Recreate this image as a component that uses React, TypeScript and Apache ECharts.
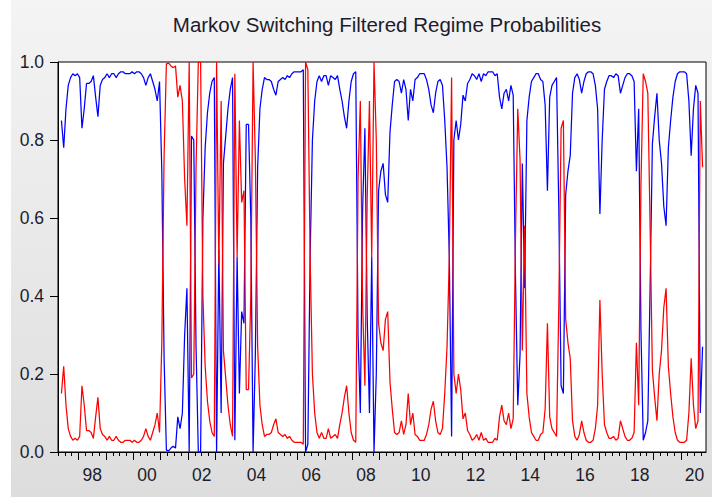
import React, { useEffect, useRef } from "react";
import * as echarts from "echarts";

// Monthly filtered probabilities, first observation 1997M05, last 2020M10
const START_YEAR = 1997;
const START_MONTH = 5;

const REGIME1_BLUE = [
  0.85, 0.78, 0.88, 0.94, 0.96, 0.97, 0.965, 0.97, 0.96, 0.83,
  0.88, 0.945, 0.945, 0.95, 0.965, 0.91, 0.86, 0.94, 0.955, 0.96,
  0.97, 0.96, 0.97, 0.97, 0.96, 0.97, 0.975, 0.975, 0.97, 0.97,
  0.97, 0.975, 0.97, 0.975, 0.975, 0.97, 0.96, 0.94, 0.96, 0.97,
  0.95, 0.93, 0.9, 0.95, 0.72, 0.24, 0.005, 0.003, 0.01, 0.015,
  0.01, 0.09, 0.06, 0.1, 0.3, 0.42, 0.0, 0.81, 0.8, 0.27,
  0.0, 0.0, 0.6, 0.78, 0.87, 0.92, 0.95, 0.96, 0.0, 0.52,
  0.1, 0.74, 0.81, 0.88, 0.93, 0.96, 0.03, 0.5, 0.15, 0.36,
  0.33, 0.84, 0.84, 0.6, 0.0, 0.25, 0.73, 0.88, 0.93, 0.96,
  0.955, 0.955, 0.95, 0.93, 0.915, 0.95, 0.955, 0.96, 0.955, 0.965,
  0.96, 0.97, 0.975, 0.975, 0.975, 0.975, 0.98, 0.0, 0.02, 0.5,
  0.8, 0.9, 0.95, 0.965, 0.95, 0.965, 0.965, 0.94, 0.965, 0.96,
  0.955, 0.965, 0.93, 0.9, 0.86, 0.83, 0.9, 0.95, 0.97, 0.975,
  0.3, 0.1, 0.62, 0.83, 0.35, 0.1, 0.5, 0.0, 0.2, 0.67,
  0.72, 0.74, 0.66, 0.64, 0.82, 0.89, 0.95, 0.955, 0.95, 0.92,
  0.955, 0.93, 0.85, 0.93, 0.9, 0.955, 0.96, 0.97, 0.97, 0.97,
  0.955, 0.93, 0.89, 0.87, 0.92, 0.95, 0.955, 0.94, 0.85, 0.73,
  0.5, 0.04, 0.8, 0.85, 0.8, 0.84, 0.915, 0.9, 0.945, 0.955,
  0.97, 0.965, 0.955, 0.97, 0.95, 0.97, 0.965, 0.975, 0.975, 0.975,
  0.965, 0.97, 0.91, 0.88, 0.92, 0.93, 0.9, 0.94, 0.915, 0.45,
  0.12, 0.25, 0.74, 0.42, 0.85, 0.91, 0.95, 0.96, 0.97, 0.97,
  0.955, 0.95, 0.89, 0.67, 0.91, 0.94, 0.95, 0.96, 0.62, 0.17,
  0.15, 0.66, 0.72, 0.76, 0.92, 0.96, 0.97, 0.955, 0.92, 0.95,
  0.97, 0.975, 0.975, 0.97, 0.94, 0.88, 0.61, 0.8, 0.93, 0.95,
  0.965, 0.965, 0.96, 0.97, 0.965, 0.92, 0.94, 0.96, 0.97, 0.97,
  0.965, 0.95, 0.72, 0.88, 0.31, 0.03, 0.05, 0.08, 0.42, 0.79,
  0.86, 0.92, 0.8, 0.74, 0.63, 0.58, 0.78, 0.85, 0.91, 0.95,
  0.97, 0.975, 0.975, 0.975, 0.97, 0.9, 0.76, 0.88, 0.94, 0.92,
  0.1, 0.27,
];

const REGIME2_RED = [
  0.15, 0.22, 0.12, 0.06, 0.04, 0.03, 0.035, 0.03, 0.04, 0.17,
  0.12, 0.055, 0.055, 0.05, 0.035, 0.09, 0.14, 0.06, 0.045, 0.04,
  0.03, 0.04, 0.03, 0.03, 0.04, 0.03, 0.025, 0.025, 0.03, 0.03,
  0.03, 0.025, 0.03, 0.025, 0.025, 0.03, 0.04, 0.06, 0.04, 0.03,
  0.05, 0.07, 0.1, 0.05, 0.28, 0.76, 0.995, 0.997, 0.99, 0.985,
  0.99, 0.91, 0.94, 0.9, 0.7, 0.58, 1.0, 0.19, 0.2, 0.73,
  1.0, 1.0, 0.4, 0.22, 0.13, 0.08, 0.05, 0.04, 1.0, 0.48,
  0.9, 0.26, 0.19, 0.12, 0.07, 0.04, 0.97, 0.5, 0.85, 0.64,
  0.67, 0.16, 0.16, 0.4, 1.0, 0.75, 0.27, 0.12, 0.07, 0.04,
  0.045, 0.045, 0.05, 0.07, 0.085, 0.05, 0.045, 0.04, 0.045, 0.035,
  0.04, 0.03, 0.025, 0.025, 0.025, 0.025, 0.02, 1.0, 0.98, 0.5,
  0.2, 0.1, 0.05, 0.035, 0.05, 0.035, 0.035, 0.06, 0.035, 0.04,
  0.045, 0.035, 0.07, 0.1, 0.14, 0.17, 0.1, 0.05, 0.03, 0.025,
  0.7, 0.9, 0.38, 0.17, 0.65, 0.9, 0.5, 1.0, 0.8, 0.33,
  0.28, 0.26, 0.34, 0.36, 0.18, 0.11, 0.05, 0.045, 0.05, 0.08,
  0.045, 0.07, 0.15, 0.07, 0.1, 0.045, 0.04, 0.03, 0.03, 0.03,
  0.045, 0.07, 0.11, 0.13, 0.08, 0.05, 0.045, 0.06, 0.15, 0.27,
  0.5, 0.96, 0.2, 0.15, 0.2, 0.16, 0.085, 0.1, 0.055, 0.045,
  0.03, 0.035, 0.045, 0.03, 0.05, 0.03, 0.035, 0.025, 0.025, 0.025,
  0.035, 0.03, 0.09, 0.12, 0.08, 0.07, 0.1, 0.06, 0.085, 0.55,
  0.88, 0.75, 0.26, 0.58, 0.15, 0.09, 0.05, 0.04, 0.03, 0.03,
  0.045, 0.05, 0.11, 0.33, 0.09, 0.06, 0.05, 0.04, 0.38, 0.83,
  0.85, 0.34, 0.28, 0.24, 0.08, 0.04, 0.03, 0.045, 0.08, 0.05,
  0.03, 0.025, 0.025, 0.03, 0.06, 0.12, 0.39, 0.2, 0.07, 0.05,
  0.035, 0.035, 0.04, 0.03, 0.035, 0.08, 0.06, 0.04, 0.03, 0.03,
  0.035, 0.05, 0.28, 0.12, 0.69, 0.97, 0.95, 0.92, 0.58, 0.21,
  0.14, 0.08, 0.2, 0.26, 0.37, 0.42, 0.22, 0.15, 0.09, 0.05,
  0.03, 0.025, 0.025, 0.025, 0.03, 0.1, 0.24, 0.12, 0.06, 0.08,
  0.9, 0.73,
];

const X_LABEL_YEARS = [1998, 2000, 2002, 2004, 2006, 2008, 2010, 2012, 2014, 2016, 2018, 2020];
const X_LABELS = ["98", "00", "02", "04", "06", "08", "10", "12", "14", "16", "18", "20"];

const X_MIN = 1997.25;
const X_MAX = 2020 + 11 / 12;
const FONT = "'Liberation Sans', Arial, Helvetica, sans-serif";
const TEXT_COLOR = "#1c1c2c";

function monthPos(i: number): number {
  return START_YEAR + (START_MONTH - 1 + i + 0.5) / 12;
}

export default function App() {
  const ref = useRef<HTMLDivElement>(null);

  useEffect(() => {
    if (!ref.current) return;
    const chart = echarts.init(ref.current, null, { renderer: "svg" });

    const blueData = REGIME1_BLUE.map((v, i) => [monthPos(i), v]);
    const redData = REGIME2_RED.map((v, i) => [monthPos(i), v]);

    const quarterTicks: number[] = [];
    for (let q = 0; X_MIN + q * 0.25 <= X_MAX + 1e-9; q++) quarterTicks.push(X_MIN + q * 0.25);
    const yearTicks: number[] = [];
    for (let y = 1998; y <= 2020; y++) yearTicks.push(y);
    const labelPos = X_LABEL_YEARS.map((y) => y + 0.5);

    chart.setOption({
      animation: false,
      backgroundColor: {
        type: "linear",
        x: 0,
        y: 0,
        x2: 0,
        y2: 1,
        colorStops: [
          { offset: 0, color: "#f4f4f4" },
          { offset: 1, color: "#dddddd" },
        ],
      },
      graphic: [
        {
          type: "rect",
          left: 0,
          top: 0,
          shape: { x: 0, y: 0, width: 11, height: 497 },
          style: { fill: "#ffffff" },
          silent: true,
          z: -10,
        },
      ],
      title: {
        text: "Markov Switching Filtered Regime Probabilities",
        left: 382,
        top: 9,
        textAlign: "center",
        textStyle: {
          fontFamily: FONT,
          fontSize: 20.5,
          fontWeight: "normal",
          color: TEXT_COLOR,
        },
      },
      grid: {
        left: 58,
        right: 6,
        top: 62,
        bottom: 45,
        show: true,
        backgroundColor: "#ffffff",
        borderColor: "#000000",
        borderWidth: 1,
      },
      xAxis: [
        {
          type: "value",
          min: X_MIN,
          max: X_MAX,
          position: "bottom",
          axisLine: { show: true, onZero: false, lineStyle: { color: "#000", width: 1 } },
          axisTick: {
            show: true,
            length: 4,
            customValues: quarterTicks,
            lineStyle: { color: "#000", width: 1 },
          },
          axisLabel: {
            show: true,
            customValues: labelPos,
            margin: 14,
            fontFamily: FONT,
            fontSize: 17.5,
            color: TEXT_COLOR,
            formatter: (v: number) => {
              const idx = X_LABEL_YEARS.indexOf(Math.round(v - 0.5));
              return idx >= 0 ? X_LABELS[idx] : "";
            },
          },
          splitLine: { show: false },
        },
        {
          type: "value",
          min: X_MIN,
          max: X_MAX,
          position: "bottom",
          axisLine: { show: false, onZero: false },
          axisTick: {
            show: true,
            length: 8,
            customValues: yearTicks,
            lineStyle: { color: "#000", width: 1 },
          },
          axisLabel: { show: false },
          splitLine: { show: false },
        },
      ],
      yAxis: {
        type: "value",
        min: 0,
        max: 1,
        interval: 0.2,
        axisLine: { show: true, lineStyle: { color: "#000", width: 1 } },
        axisTick: { show: true, length: 8, lineStyle: { color: "#000", width: 1 } },
        axisLabel: {
          margin: 14,
          fontFamily: FONT,
          fontSize: 17.5,
          color: TEXT_COLOR,
          formatter: (v: number) => v.toFixed(1),
        },
        splitLine: { show: false },
      },
      series: [
        {
          name: "Regime 1",
          type: "line",
          xAxisIndex: 0,
          data: blueData,
          showSymbol: false,
          symbol: "none",
          lineStyle: { color: "#0000ff", width: 1.25 },
          itemStyle: { color: "#0000ff" },
          silent: true,
          z: 2,
        },
        {
          name: "Regime 2",
          type: "line",
          xAxisIndex: 0,
          data: redData,
          showSymbol: false,
          symbol: "none",
          lineStyle: { color: "#ff0000", width: 1.25 },
          itemStyle: { color: "#ff0000" },
          silent: true,
          z: 3,
        },
      ],
    });

    return () => chart.dispose();
  }, []);

  return (
    <div
      ref={ref}
      style={{ position: "absolute", left: 0, top: 0, width: 712, height: 497 }}
    />
  );
}
